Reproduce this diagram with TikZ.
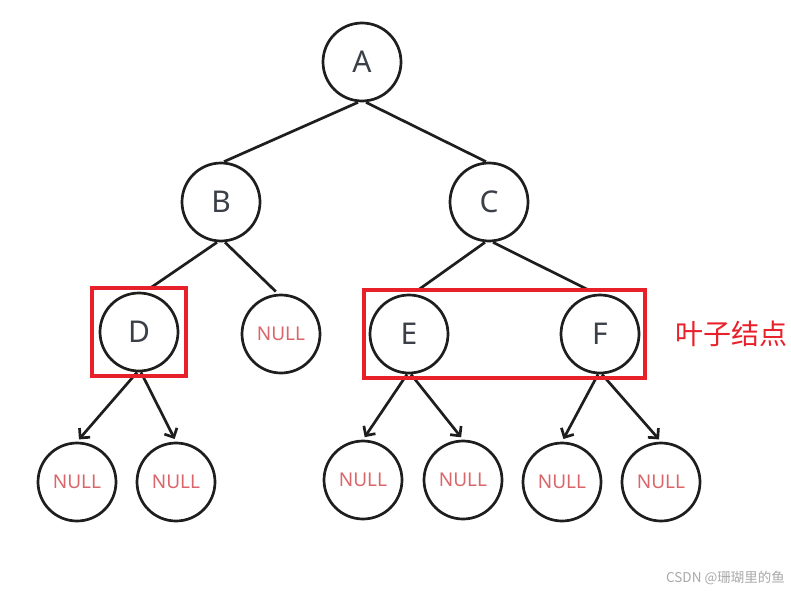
\documentclass[tikz,border=0pt]{standalone}
\usepackage{fontspec}
\setmainfont{Noto Sans}
\newfontfamily\cjk{Noto Sans CJK SC}
\usepackage{tikz}
\usetikzlibrary{arrows.meta,fit}
\usepackage{xcolor}
\definecolor{edgecolor}{HTML}{1E1E1E}
\definecolor{lettercolor}{HTML}{3A3F48}
\definecolor{nullcolor}{HTML}{D9666A}
\definecolor{boxcolor}{HTML}{E8202A}
\definecolor{markcolor}{HTML}{A8A8A8}

\tikzset{
    treenode/.style={circle, draw=edgecolor, line width=2.7pt, minimum size=78pt, inner sep=0pt,
        text=lettercolor, font=\fontsize{30}{30}\selectfont},
    nullnode/.style={treenode, text=nullcolor, font=\fontsize{19}{19}\selectfont},
    leafbox/.style={draw=boxcolor, line width=4pt, inner sep=0pt},
    edge/.style={line width=2.7pt, color=edgecolor},
}

\begin{document}
\begin{tikzpicture}[x=1pt, y=-1pt, >={Straight Barb[length=7pt,width=14pt]}]
    \useasboundingbox (0,0) rectangle (791,591);
    % Root and inner nodes
    \node[treenode] (A) at (362,62) {A};
    \node[treenode] (B) at (221,202) {B};
    \node[treenode] (C) at (489,202) {C};
    \node[treenode] (D) at (139,332) {D};
    \node[nullnode] (N1) at (281,334) {NULL};
    \node[treenode] (E) at (409,334) {E};
    \node[treenode] (F) at (600,334) {F};

    % Empty children
    \node[nullnode] (N2) at (77,482) {NULL};
    \node[nullnode] (N3) at (176,482) {NULL};
    \node[nullnode] (N4) at (363,480) {NULL};
    \node[nullnode] (N5) at (463,480) {NULL};
    \node[nullnode] (N6) at (562,482) {NULL};
    \node[nullnode] (N7) at (661,482) {NULL};

    % Plain edges
    \draw[edge] ([xshift=-4pt]A.south) -- ([xshift=3pt]B.north);
    \draw[edge] ([xshift=4pt]A.south) -- ([xshift=-3pt]C.north);
    \draw[edge, shorten >=7pt] ([xshift=-4pt]B.south) -- ([xshift=6pt]D.north);
    \draw[edge, shorten >=3pt] ([xshift=4pt]B.south) -- ([xshift=-3pt]N1.north);
    \draw[edge, shorten >=6pt] ([xshift=-4pt]C.south) -- ([xshift=4pt]E.north);
    \draw[edge, shorten >=6pt] ([xshift=4pt]C.south) -- ([xshift=-4pt]F.north);

    % Arrows to NULL
    \draw[edge, ->, shorten >=3pt] ([xshift=-2pt]D.south) -- (N2.north);
    \draw[edge, ->, shorten >=3pt] ([xshift=2pt]D.south) -- (N3.north);
    \draw[edge, ->, shorten >=3pt] ([xshift=-2pt]E.south) -- (N4.north);
    \draw[edge, ->, shorten >=3pt] ([xshift=2pt]E.south) -- (N5.north);
    \draw[edge, ->, shorten >=3pt] ([xshift=-2pt]F.south) -- (N6.north);
    \draw[edge, ->, shorten >=3pt] ([xshift=2pt]F.south) -- (N7.north);

    % Leaf boxes
    \node[leafbox, inner xsep=7pt, inner ysep=4pt, fit=(D)] (boxD) {};
    \node[leafbox, inner xsep=5pt, inner ysep=4pt, fit=(E) (F)] (boxEF) {};
    \node[anchor=west, inner sep=0pt, text=boxcolor, font=\cjk\fontsize{28}{28}\selectfont] (leaf) at (675,334) {叶子结点};

    \node[anchor=east, inner sep=0pt, text=markcolor, font=\cjk\fontsize{13.5}{13.5}\selectfont] (mark) at (785,578) {CSDN @珊瑚里的鱼};
\end{tikzpicture}
\end{document}
